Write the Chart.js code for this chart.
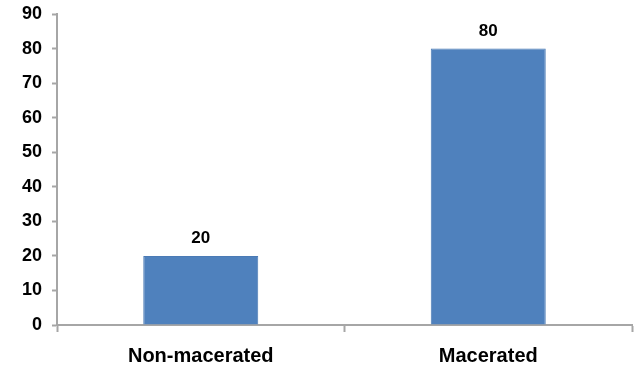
<!DOCTYPE html>
<html>
<head>
<meta charset="utf-8">
<script src="https://cdn.jsdelivr.net/npm/chart.js@4/dist/chart.umd.min.js"></script>
<style>
  html, body { margin: 0; padding: 0; background: #fff; }
  #wrap { width: 636px; height: 366px; }
</style>
</head>
<body>
<div id="wrap"><canvas id="c" width="636" height="366"></canvas></div>
<script>
const categories = ['Non-macerated', 'Macerated'];
const values = [20, 80];
const yTicks = [0, 10, 20, 30, 40, 50, 60, 70, 80, 90];

const axisGray = '#a6a6a6';

// draws the value above each bar
const valueLabels = {
    id: 'valueLabels',
    afterDatasetsDraw(chart) {
        const ctx = chart.ctx;
        ctx.save();
        ctx.font = 'bold 17px "Liberation Sans", Arial, sans-serif';
        ctx.fillStyle = '#000';
        ctx.textAlign = 'center';
        ctx.textBaseline = 'alphabetic';
        chart.getDatasetMeta(0).data.forEach((bar, i) => {
            ctx.fillText(String(values[i]), bar.x, bar.y - 13);
        });
        ctx.restore();
    }
};

new Chart(document.getElementById('c'), {
    type: 'bar',
    data: {
        labels: categories,
        datasets: [{
            data: values,
            backgroundColor: '#4f81bd',
            borderColor: '#4a7ab5',
            borderWidth: 1,
            barPercentage: 0.4,
            categoryPercentage: 1
        }]
    },
    options: {
        responsive: false,
        animation: false,
        layout: { padding: { top: 14, right: 4, left: 0, bottom: 0 } },
        plugins: { legend: { display: false }, tooltip: { enabled: false } },
        scales: {
            x: {
                grid: { drawOnChartArea: false, drawTicks: true, tickLength: 7, tickColor: axisGray, tickWidth: 2, offset: true },
                border: { color: axisGray, width: 2 },
                ticks: {
                    color: '#000',
                    padding: 12,
                    font: { family: '"Liberation Sans", Arial, sans-serif', size: 20, weight: 'bold' }
                },
                afterFit(scale) { scale.height = 41; }
            },
            y: {
                min: 0,
                max: 90,
                afterBuildTicks(scale) { scale.ticks = yTicks.map(v => ({ value: v })); },
                grid: { drawOnChartArea: false, drawTicks: true, tickLength: 5, tickColor: axisGray, tickWidth: 2 },
                border: { color: axisGray, width: 2 },
                ticks: {
                    color: '#000',
                    padding: 10,
                    font: { family: '"Liberation Sans", Arial, sans-serif', size: 18, weight: 'bold' }
                },
                afterFit(scale) { scale.width = 57; scale.paddingTop = 0; scale.paddingBottom = 0; }
            }
        }
    },
    plugins: [valueLabels]
});
</script>
</body>
</html>
